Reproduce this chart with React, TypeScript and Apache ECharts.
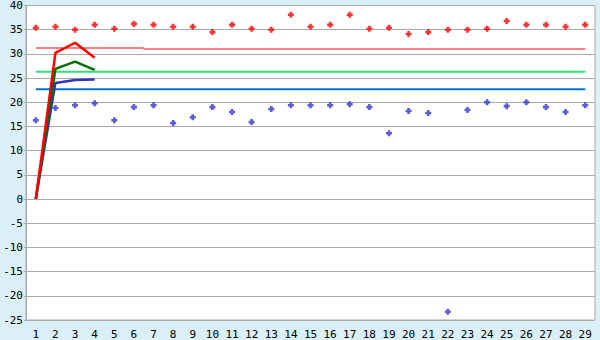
import React, { useEffect, useRef } from "react";
import * as echarts from "echarts";

const categories = Array.from({ length: 29 }, (_, i) => String(i + 1));
const redPoints = [35.4, 35.6, 35.0, 36.0, 35.2, 36.2, 36.0, 35.6, 35.6, 34.5, 36.0, 35.2, 35.0, 38.1, 35.6, 36.0, 38.1, 35.2, 35.4, 34.1, 34.5, 35.0, 35.0, 35.2, 36.8, 36.0, 36.0, 35.6, 36.0];
const bluePoints = [16.3, 18.8, 19.4, 19.8, 16.3, 19.0, 19.4, 15.7, 16.9, 19.0, 18.0, 15.9, 18.6, 19.4, 19.4, 19.4, 19.6, 19.0, 13.6, 18.2, 17.8, -23.3, 18.4, 20.0, 19.2, 20.0, 19.0, 18.0, 19.4];
const redLine = [0, 30.2, 32.3, 29.2];
const greenLine = [0, 26.9, 28.4, 26.7];
const blueLine = [0, 24.0, 24.6, 24.7];
const pinkRef = [31.2, 31.2, 31.2, 31.2, 31.2, 31.2, 31.0, 31.0, 31.0, 31.0, 31.0, 31.0, 31.0, 31.0, 31.0, 31.0, 31.0, 31.0, 31.0, 31.0, 31.0, 31.0, 31.0, 31.0, 31.0, 31.0, 31.0, 31.0, 31.0];
const greenRef = 26.3;
const blueRef = 22.7;
const yMin = -25;
const yMax = 40;
const yStep = 5;

const plus = "path://M2,0H5V2H7V5H5V7H2V5H0V2H2Z";
const font = "DejaVu Sans Mono";

export default function App() {
  const ref = useRef<HTMLDivElement>(null);
  useEffect(() => {
    const chart = echarts.init(ref.current!, null, { renderer: "svg" });
    const lineSeries = (data: number[], color: string) => ({
      type: "line",
      data,
      showSymbol: false,
      symbol: "none",
      lineStyle: { color, width: 2.5 },
      itemStyle: { color },
      z: 3,
    });
    const flat = (v: number) => categories.map(() => v);
    chart.setOption({
      animation: false,
      backgroundColor: "#daeff6",
      grid: {
        left: 26,
        top: 5,
        right: 5,
        bottom: 20,
        show: true,
        backgroundColor: "#ffffff",
        borderColor: "#aaaaaa",
        borderWidth: 1,
      },
      xAxis: {
        type: "category",
        data: categories,
        boundaryGap: true,
        axisLine: { lineStyle: { color: "#aaaaaa" } },
        axisTick: { alignWithLabel: true, length: 6, lineStyle: { color: "#000000" } },
        axisLabel: { interval: 0, color: "#000000", fontFamily: font, fontSize: 11, margin: 9 },
        splitLine: { show: false },
      },
      yAxis: {
        type: "value",
        min: yMin,
        max: yMax,
        interval: yStep,
        axisLine: { show: true, lineStyle: { color: "#aaaaaa" } },
        axisTick: { show: true, length: 2, lineStyle: { color: "#aaaaaa" } },
        axisLabel: { color: "#000000", fontFamily: font, fontSize: 11, margin: 3 },
        splitLine: { lineStyle: { color: "#aaaaaa", width: 1 } },
      },
      series: [
        {
          type: "line",
          data: pinkRef,
          step: "middle",
          showSymbol: false,
          symbol: "none",
          lineStyle: { color: "#ff8080", width: 2 },
          z: 2,
        },
        {
          type: "line",
          data: flat(greenRef),
          showSymbol: false,
          symbol: "none",
          lineStyle: { color: "#33dd77", width: 2 },
          z: 2,
        },
        {
          type: "line",
          data: flat(blueRef),
          showSymbol: false,
          symbol: "none",
          lineStyle: { color: "#0070e0", width: 2 },
          z: 2,
        },
        lineSeries(blueLine, "#3333bb"),
        lineSeries(greenLine, "#007000"),
        lineSeries(redLine, "#ff0000"),
        {
          type: "scatter",
          data: redPoints,
          symbol: plus,
          symbolSize: 6,
          itemStyle: { color: "#ff0000" },
          z: 4,
        },
        {
          type: "scatter",
          data: bluePoints,
          symbol: plus,
          symbolSize: 6,
          itemStyle: { color: "#3333cc" },
          z: 4,
        },
      ],
    });
    return () => chart.dispose();
  }, []);
  return (
    <div
      ref={ref}
      style={{ position: "fixed", left: 0, top: 0, width: 600, height: 340 }}
    />
  );
}
